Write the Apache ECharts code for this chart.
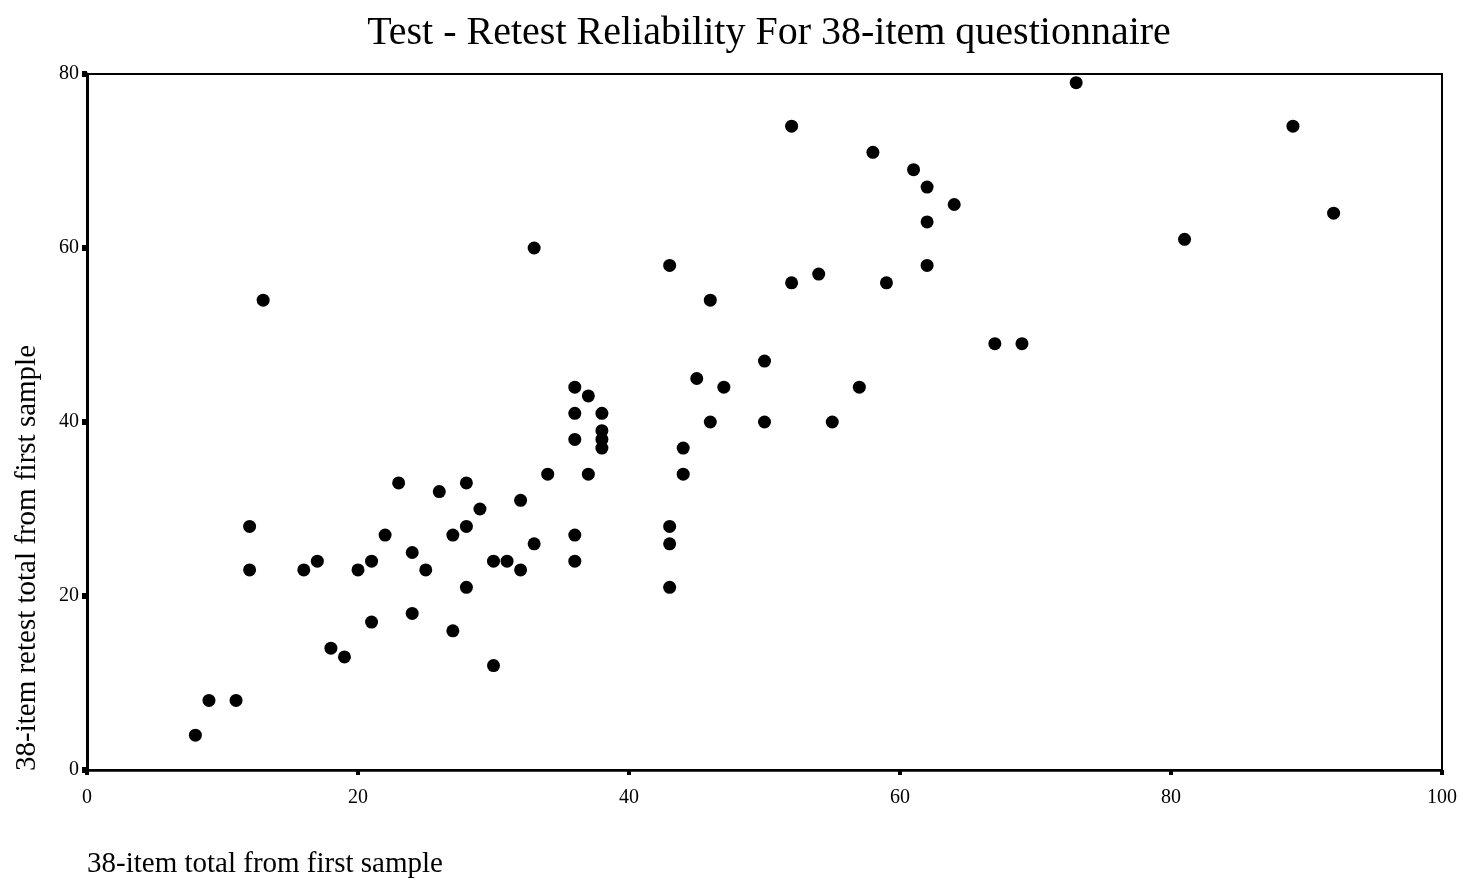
<!DOCTYPE html>
<html>
<head>
<meta charset="utf-8">
<script src="https://cdn.jsdelivr.net/npm/echarts@6/dist/echarts.min.js"></script>
<style>html,body{margin:0;padding:0;background:#fff;}#c{width:1469px;height:882px;}</style>
</head>
<body>
<div id="c"></div>
<script>
const titleText = "Test - Retest Reliability For 38-item questionnaire";
const xAxisName = "38-item total from first sample";
const yAxisName = "38-item retest total from first sample";
const xTicks = [0, 20, 40, 60, 80, 100];
const yTicks = [0, 20, 40, 60, 80];
const firstSample = [8,9,11,13,12,12,16,17,18,19,20,21,21,22,23,24,24,25,26,27,27,28,28,28,29,30,31,30,32,32,33,33,34,36,36,36,36,36,37,37,38,38,38,38,43,43,43,43,44,44,45,46,46,47,50,50,52,52,54,55,57,58,59,61,62,62,62,64,67,69,73,81,89,92];
const retest      = [4,8,8,54,28,23,23,24,14,13,23,24,17,27,33,25,18,23,32,27,16,33,28,21,30,24,24,12,31,23,26,60,34,44,41,38,27,24,43,34,41,39,38,37,58,28,26,21,37,34,45,54,40,44,47,40,74,56,57,40,44,71,56,69,67,63,58,65,49,49,79,61,74,64];

const points = firstSample.map((x, i) => [x, retest[i]]);
const serif = "'Liberation Serif', 'DejaVu Serif', serif";

const chart = echarts.init(document.getElementById('c'));
chart.setOption({
  backgroundColor: '#fff',
  animation: false,
  title: {
    text: titleText,
    left: 764, top: 8, textAlign: 'center',
    textStyle: { fontFamily: serif, fontSize: 40, fontWeight: 'normal', color: '#000' }
  },
  grid: { left: 87, right: 27, top: 74, bottom: 112, show: true, borderColor: '#000', borderWidth: 2, backgroundColor: 'transparent' },
  xAxis: {
    type: 'value', min: xTicks[0], max: xTicks[xTicks.length - 1], interval: 20,
    axisLine: { show: true, onZero: false, lineStyle: { color: '#000', width: 2.5 } },
    axisTick: { show: true, length: 5, inside: false, lineStyle: { color: '#000', width: 4 } },
    axisLabel: { margin: 18, fontFamily: serif, fontSize: 20, color: '#000' },
    splitLine: { show: false }
  },
  yAxis: {
    type: 'value', min: yTicks[0], max: yTicks[yTicks.length - 1], interval: 20,
    axisLine: { show: true, onZero: false, lineStyle: { color: '#000', width: 3 } },
    axisTick: { show: true, length: 5, inside: false, lineStyle: { color: '#000', width: 6 } },
    axisLabel: { margin: 8, fontFamily: serif, fontSize: 20, color: '#000' },
    splitLine: { show: false }
  },
  graphic: [
    { type: 'text', left: 87, top: 850, style: { text: xAxisName, font: "29px 'Liberation Serif', serif", fill: '#000' } },
    { type: 'text', x: 13, y: 771, rotation: Math.PI / 2, style: { text: yAxisName, font: "29px 'Liberation Serif', serif", fill: '#000', textAlign: 'left', textVerticalAlign: 'top' } }
  ],
  series: [{
    type: 'scatter',
    data: points,
    symbol: 'circle',
    symbolSize: 13,
    itemStyle: { color: '#000', opacity: 1 }
  }]
});
</script>
</body>
</html>
